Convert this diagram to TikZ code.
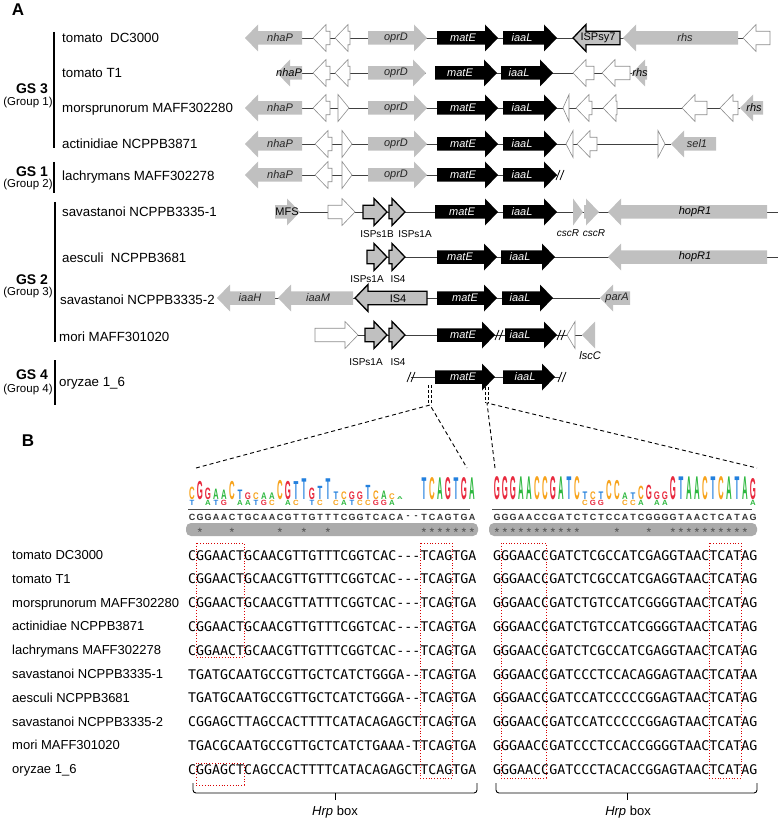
\documentclass[tikz,border=0pt]{standalone}
\usepackage{xcolor}
\usepackage{fontspec}
\setmainfont{Liberation Sans}
\setsansfont{Liberation Sans}
\newfontfamily\seqfont{DejaVu Sans Mono}
\usepackage{tikz}

\definecolor{genegray}{RGB}{192,192,192}
\definecolor{lgA}{RGB}{46,184,64}
\definecolor{lgC}{RGB}{247,163,28}
\definecolor{lgG}{RGB}{232,42,62}
\definecolor{lgT}{RGB}{34,128,222}

\tikzset{
  gray gene/.style={fill=genegray},
  black gene/.style={fill=black},
  white gene/.style={fill=white, draw=black!45, line width=0.6pt},
  is gene/.style={fill=genegray, draw=black, line width=1.3pt},
  backbone/.style={black!75, line width=0.9pt},
  rowname/.style={anchor=base west, inner sep=0, font=\fontsize{13.3}{15}\selectfont},
  glab/.style={inner sep=0, font=\fontsize{11}{12}\selectfont\itshape, text=black!85},
  wlab/.style={glab, text=white},
  islab/.style={inner sep=0, font=\fontsize{11}{12}\selectfont},
  sublab/.style={inner sep=0, font=\fontsize{10}{12}\selectfont},
  grp/.style={inner sep=0, font=\fontsize{14}{15}\selectfont\bfseries},
  subgrp/.style={inner sep=0, font=\fontsize{11.5}{13}\selectfont},
  panel/.style={inner sep=0, font=\fontsize{17}{18}\selectfont\bfseries},
  bname/.style={anchor=base west, inner sep=0, font=\fontsize{13}{14}\selectfont},
  seq/.style={anchor=base west, inner sep=0, font=\seqfont\fontsize{13.3}{14}\selectfont},
  cons/.style={inner sep=0, font=\fontsize{9}{9}\selectfont\bfseries, text=black!80},
  star/.style={anchor=base, inner sep=0, font=\fontsize{12}{12}\selectfont, text=black!70},
  logo/.style={anchor=south, inner sep=0, xscale=0.78, font=\fontsize{10}{10}\selectfont\bfseries},
  redbox/.style={red!85!black, dotted, line width=0.8pt},
  zoomline/.style={dashed, dash pattern=on 4pt off 3pt, line width=0.9pt},
  brace/.style={line width=0.9pt, rounded corners=3pt}
}

% gene arrow: [style]{tail x}{tip x}{y}
\newcommand{\genearrow}[4][gray gene]{%
  \pgfmathsetmacro{\hdlen}{min(13,abs(#3-#2))}%
  \pgfmathsetmacro{\hdbase}{#3-sign(#3-#2)*\hdlen}%
  \path[#1] (#2,#4-6.75) -- (\hdbase,#4-6.75) -- (\hdbase,#4-13.5) -- (#3,#4)
    -- (\hdbase,#4+13.5) -- (\hdbase,#4+6.75) -- (#2,#4+6.75) -- cycle;}
% break mark //
\newcommand{\brkmark}[2]{%
  \draw[line width=0.8pt] (#1-3,#2+5) -- (#1+1,#2-5) (#1+1,#2+5) -- (#1+5,#2-5);}

\begin{document}
\begin{tikzpicture}[x=1pt, y=-1pt]
\useasboundingbox (0,0) rectangle (778,826);

\node[panel] (pA) at (18,10) {A};
\node[panel] (pB) at (28,441) {B};

% groups
\draw[line width=1.3pt] (54,32) -- (54,148) (54,162) -- (54,193) (55,202) -- (55,342) (55,360) -- (55,405);
\node[grp] (gs3) at (32,89) {GS 3};
\node[subgrp] (gr1) at (28,103) {(Group 1)};
\node[grp] (gs1) at (32,172) {GS 1};
\node[subgrp] (gr2) at (28,185) {(Group 2)};
\node[grp] (gs2) at (32,280) {GS 2};
\node[subgrp] (gr3) at (28,293) {(Group 3)};
\node[grp] (gs4) at (32,375) {GS 4};
\node[subgrp] (gr4) at (28,390) {(Group 4)};

\node[rowname] (n1) at (62,43) {tomato\ \ DC3000};
\node[rowname] (n2) at (62,78) {tomato T1};
\node[rowname] (n3) at (62,113) {morsprunorum MAFF302280};
\node[rowname] (n4) at (62,149) {actinidiae NCPPB3871};
\node[rowname] (n5) at (62,181) {lachrymans MAFF302278};
\node[rowname] (n6) at (62,216) {savastanoi NCPPB3335-1};
\node[rowname] (n7) at (62,262) {aesculi\ \ NCPPB3681};
\node[rowname] (n8) at (60,304) {savastanoi NCPPB3335-2};
\node[rowname] (n9) at (59,341) {mori MAFF301020};
\node[rowname] (n10) at (59,386) {oryzae 1\_6};

% row 1
\draw[backbone] (302,38) -- (743,38);
\genearrow{302}{245}{38}
\genearrow[white gene]{330}{313}{38}
\genearrow[white gene]{350}{335}{38}
\genearrow{368}{427}{38}
\genearrow[black gene]{437}{498}{38}
\genearrow[black gene]{503}{557}{38}
\genearrow[is gene]{620}{573}{38}
\genearrow{738}{623}{38}
\genearrow[white gene]{770}{743}{38}
\node[glab] (l1a) at (280,38) {nhaP};
\node[glab] (l1b) at (396,38) {oprD};
\node[wlab] (l1c) at (463,38) {matE};
\node[wlab] (l1d) at (522,38) {iaaL};
\node[islab] (l1e) at (598,38) {ISPsy7};
\node[glab] (l1f) at (685,38) {rhs};

% row 2
\draw[backbone] (302,73) -- (426,73) (480,73) -- (632,73);
\genearrow{302}{277}{73}
\genearrow[white gene]{330}{313}{73}
\genearrow[white gene]{350}{335}{73}
\genearrow{368}{426}{73}
\genearrow[black gene]{435}{497}{73}
\genearrow[black gene]{501}{553}{73}
\genearrow[white gene]{594}{573}{73}
\genearrow[white gene]{630}{602}{73}
\genearrow{647}{632}{73}
\node[glab, text=black] (l2a) at (289,73) {nhaP};
\node[glab] (l2b) at (396,73) {oprD};
\node[wlab] (l2c) at (460,73) {matE};
\node[wlab] (l2d) at (519,73) {iaaL};
\node[glab, text=black] (l2e) at (640,73) {rhs};

% row 3
\draw[backbone] (302,108) -- (740,108);
\genearrow{302}{245}{108}
\genearrow[white gene]{330}{313}{108}
\genearrow[white gene]{338}{349}{108}
\genearrow{368}{427}{108}
\genearrow[black gene]{437}{498}{108}
\genearrow[black gene]{503}{557}{108}
\genearrow[white gene]{569}{563}{108}
\genearrow[white gene]{592}{576}{108}
\genearrow[white gene]{617}{603}{108}
\genearrow[white gene]{707}{682}{108}
\genearrow[white gene]{738}{720}{108}
\genearrow{763}{740}{108}
\node[glab] (l3a) at (280,108) {nhaP};
\node[glab] (l3b) at (396,108) {oprD};
\node[wlab] (l3c) at (463,108) {matE};
\node[wlab] (l3d) at (522,108) {iaaL};
\node[glab, text=black] (l3e) at (754,108) {rhs};

% row 4
\draw[backbone] (302,144) -- (671,144);
\genearrow{302}{245}{144}
\genearrow[white gene]{332}{315}{144}
\genearrow[white gene]{342}{352}{144}
\genearrow{368}{427}{144}
\genearrow[black gene]{437}{498}{144}
\genearrow[black gene]{503}{557}{144}
\genearrow[white gene]{573}{566}{144}
\genearrow[white gene]{597}{577}{144}
\genearrow[white gene]{658}{665}{144}
\genearrow{716}{671}{144}
\node[glab] (l4a) at (280,144) {nhaP};
\node[glab] (l4b) at (396,144) {oprD};
\node[wlab] (l4c) at (463,144) {matE};
\node[wlab] (l4d) at (522,144) {iaaL};
\node[glab] (l4e) at (697,144) {sel1};

% row 5
\draw[backbone] (302,175) -- (557,175);
\genearrow{302}{245}{175}
\genearrow[white gene]{332}{315}{175}
\genearrow[white gene]{342}{352}{175}
\genearrow{368}{427}{175}
\genearrow[black gene]{437}{498}{175}
\genearrow[black gene]{503}{557}{175}
\brkmark{559}{175}
\node[glab] (l5a) at (280,175) {nhaP};
\node[glab] (l5b) at (396,175) {oprD};
\node[wlab] (l5c) at (463,175) {matE};
\node[wlab] (l5d) at (522,175) {iaaL};

% row 6
\draw[backbone] (290,212) -- (778,212);
\genearrow{275}{300}{212}
\genearrow[white gene]{328}{355}{212}
\genearrow[is gene]{363}{387}{212}
\genearrow[is gene]{389}{405}{212}
\genearrow[black gene]{435}{498}{212}
\genearrow[black gene]{503}{557}{212}
\genearrow{573}{583}{212}
\genearrow{584}{599}{212}
\genearrow{767}{608}{212}
\node[islab] (l6a) at (287,212) {MFS};
\node[wlab] (l6b) at (462,212) {matE};
\node[wlab] (l6c) at (522,212) {iaaL};
\node[glab, text=black] (l6d) at (695,212) {hopR1};
\node[sublab] (l6e) at (377,234) {ISPs1B};
\node[sublab] (l6f) at (415,234) {ISPs1A};
\node[sublab, font=\fontsize{10}{12}\selectfont\itshape] (l6g) at (568,233) {cscR};
\node[sublab, font=\fontsize{10}{12}\selectfont\itshape] (l6h) at (594,233) {cscR};

% row 7
\draw[backbone] (367,257) -- (778,257);
\genearrow[is gene]{367}{387}{257}
\genearrow[is gene]{389}{405}{257}
\genearrow[black gene]{437}{497}{257}
\genearrow[black gene]{501}{555}{257}
\genearrow{767}{608}{257}
\node[wlab] (l7a) at (460,257) {matE};
\node[wlab] (l7b) at (520,257) {iaaL};
\node[glab, text=black] (l7c) at (695,257) {hopR1};
\node[sublab] (l7d) at (367,279) {ISPs1A};
\node[sublab] (l7e) at (398,279) {IS4};

% row 8
\draw[backbone] (275,298) -- (600,298);
\genearrow{275}{217}{298}
\genearrow{353}{278}{298}
\genearrow[is gene]{427}{355}{298}
\genearrow[black gene]{437}{497}{298}
\genearrow[black gene]{502}{553}{298}
\genearrow{630}{600}{298}
\node[glab] (l8a) at (250,298) {iaaH};
\node[glab] (l8b) at (318,298) {iaaM};
\node[islab] (l8c) at (398,299) {IS4};
\node[wlab] (l8d) at (465,298) {matE};
\node[wlab] (l8e) at (520,298) {iaaL};
\node[glab] (l8f) at (617,298) {parA};

% row 9
\draw[backbone] (347,335) -- (582,335);
\genearrow[white gene]{315}{358}{335}
\genearrow[is gene]{365}{387}{335}
\genearrow[is gene]{389}{405}{335}
\genearrow[black gene]{437}{495}{335}
\brkmark{498}{335}
\genearrow[black gene]{505}{557}{335}
\brkmark{560}{335}
\genearrow[white gene]{575}{567}{335}
\genearrow{595}{582}{335}
\node[wlab] (l9a) at (463,335) {matE};
\node[wlab] (l9b) at (520,335) {iaaL};
\node[sublab] (l9c) at (366,362) {ISPs1A};
\node[sublab] (l9d) at (398,362) {IS4};
\node[glab, text=black] (l9e) at (590,356) {lscC};

% row 10
\draw[backbone] (411,377) -- (560,377);
\brkmark{410}{377}
\genearrow[black gene]{435}{495}{377}
\genearrow[black gene]{503}{555}{377}
\brkmark{561}{377}
\node[wlab] (l10a) at (463,377) {matE};
\node[wlab] (l10b) at (525,377) {iaaL};
\draw[dashed, dash pattern=on 3pt off 2pt, line width=0.8pt] (428.5,385) -- (428.5,405) (431.5,385) -- (431.5,405)
  (485,387) -- (485,403) (488,387) -- (488,403);

% zoom lines to panel B
\coordinate (z1) at (430,405);
\coordinate (z2) at (487,403);
\coordinate (b1) at (196,468);
\coordinate (b2) at (467,468);
\coordinate (b3) at (495,468);
\coordinate (b4) at (757,468);
\draw[zoomline] (b1) -- (z1) -- (b2);
\draw[zoomline] (b3) -- (z2) -- (b4);

% sequence logos
\foreach \i/\l/\h in {1/C/13,2/G/19,3/G/12,4/A/11,5/A/10,6/C/19,7/T/10,8/G/7,9/C/7,10/A/7,11/A/7,
  12/C/20,13/G/19,14/T/19,15/T/22,16/G/12,17/T/14,18/T/22,19/T/8,20/C/8,21/G/8,22/G/8,23/T/15,
  24/C/9,25/A/9,26/C/6,27/A/3,30/T/23,31/C/23,32/A/23,33/G/23,34/T/23,35/G/23,36/A/23}
  \node[logo, text=lg\l, yscale=\h/7.3] (lt\i) at (184+8*\i,500) {\l};
\foreach \i/\l in {1/T,3/A,4/T,5/G,7/A,8/A,9/T,10/G,11/C,13/A,14/C,16/T,17/C,19/C,20/A,21/T,
  22/C,23/C,24/G,25/G,26/A}
  \node[logo, text=lg\l, yscale=5.5/7.3] (lb\i) at (184+8*\i,506) {\l};
\foreach \i/\l/\h in {1/G/24,2/G/24,3/G/24,4/A/24,5/A/24,6/C/24,7/C/24,8/G/24,9/A/24,10/T/24,11/C/24,
  12/T/8,13/C/8,14/T/8,15/C/20,16/C/20,17/A/7,18/T/7,19/C/14,20/G/15,21/G/8,22/G/8,
  23/G/24,24/T/24,25/A/24,26/A/24,27/C/24,28/T/24,29/C/24,30/A/24,31/T/24,32/A/24,33/G/22}
  \node[logo, text=lg\l, yscale=\h/7.3] (rt\i) at (489+8*\i,500) {\l};
\foreach \i/\l in {12/C,13/G,14/G,17/C,18/C,19/A,21/A,22/A,33/A}
  \node[logo, text=lg\l, yscale=5.5/7.3] (rb\i) at (489+8*\i,506) {\l};
\draw[black!70, line width=0.8pt] (188,509) -- (470,509) (492,509) -- (752,509);

% consensus and conservation bars
\foreach \ch [count=\i] in {C,G,G,A,A,C,T,G,C,A,A,C,G,T,T,G,T,T,T,C,G,G,T,C,A,C,A,-,-,T,C,A,G,T,G,A}
  \node[cons] (cl\i) at (184+8*\i,517) {\ch};
\foreach \ch [count=\i] in {G,G,G,A,A,C,C,G,A,T,C,T,C,T,C,C,A,T,C,G,G,G,G,T,A,A,C,T,C,A,T,A,G}
  \node[cons] (cr\i) at (489+8*\i,517) {\ch};
\fill[black!33, rounded corners=5pt] (186,523) rectangle (478,536) (489,523) rectangle (757,536);
\foreach \i in {2,6,12,15,18,30,31,32,33,34,35,36}
  \node[star] (al\i) at (184+8*\i,536.5) {*};
\foreach \i in {1,2,3,4,5,6,7,8,9,10,11,16,20,23,24,25,26,27,28,29,30,31,32}
  \node[star] (ar\i) at (489+8*\i,536.5) {*};

% aligned sequences
\foreach \nm/\sl/\sr [count=\k] in {
  tomato DC3000/CGGAACTGCAACGTTGTTTCGGTCAC---TCAGTGA/GGGAACCGATCTCGCCATCGAGGTAACTCATAG,
  tomato T1/CGGAACTGCAACGTTGTTTCGGTCAC---TCAGTGA/GGGAACCGATCTCGCCATCGAGGTAACTCATAG,
  morsprunorum MAFF302280/CGGAACTGCAACGTTATTTCGGTCAC---TCAGTGA/GGGAACCGATCTGTCCATCGGGGTAACTCATAG,
  actinidiae NCPPB3871/CGGAACTGCAACGTTGTTTCGGTCAC---TCAGTGA/GGGAACCGATCTGTCCATCGGGGTAACTCATAG,
  lachrymans MAFF302278/CGGAACTGCAACGTTGTTTCGGTCAC---TCAGTGA/GGGAACCGATCTCGCCATCGAGGTAACTCATAG,
  savastanoi NCPPB3335-1/TGATGCAATGCCGTTGCTCATCTGGGA--TCAGTGA/GGGAACCGATCCCTCCACAGGAGTAACTCATAA,
  aesculi NCPPB3681/TGATGCAATGCCGTTGCTCATCTGGGA--TCAGTGA/GGGAACCGATCCATCCCCCGGAGTAACTCATAG,
  savastanoi NCPPB3335-2/CGGAGCTTAGCCACTTTTCATACAGAGCTTCAGTGA/GGGAACCGATCCATCCCCCGGAGTAACTCATAG,
  mori MAFF301020/TGACGCAATGCCGTTGCTCATCTGAAA-TTCAGTGA/GGGAACCGATCCCTCCACCGGGGTAACTCATAG,
  oryzae 1\_6/CGGAGCTCAGCCACTTTTCATACAGAGCTTCAGTGA/GGGAACCGATCCCTACACCGGAGTAACTCATAG}
{
  \node[bname] (bn\k) at (12,559.5+23.8*\k-23.8) {\nm};
  \node[seq] (sl\k) at (188,560+23.8*\k-23.8) {\sl};
  \node[seq] (sr\k) at (493,560+23.8*\k-23.8) {\sr};
}

% hrp box motifs
\draw[redbox] (196,543) rectangle (244,657);
\draw[redbox] (196,763) rectangle (244,785);
\draw[redbox] (420,543) rectangle (452,778);
\draw[redbox] (501,543) rectangle (546,778);
\draw[redbox] (709,543) rectangle (741,778);

% braces
\draw[brace] (193,783) |- (477,793) -- (477,783);
\draw[brace] (335,793) -- (335,800);
\draw[brace] (496,783) |- (757,793) -- (757,783);
\draw[brace] (627,793) -- (627,800);
\node[islab, font=\fontsize{13}{14}\selectfont] (hb1) at (335,812) {\textit{Hrp} box};
\node[islab, font=\fontsize{13}{14}\selectfont] (hb2) at (628,812) {\textit{Hrp} box};
\end{tikzpicture}
\end{document}
